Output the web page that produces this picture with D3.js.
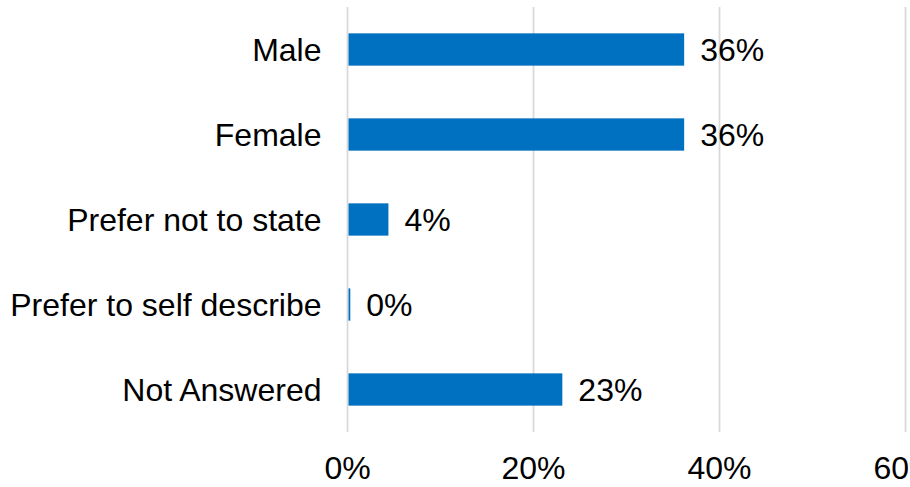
<!DOCTYPE html>
<html>
<head>
<meta charset="utf-8">
<script src="https://cdn.jsdelivr.net/npm/d3@7"></script>
<style>
    body { margin: 0; background: #fff; }
    svg text { font-family: "Liberation Sans", Arial, sans-serif; fill: #000; }
</style>
</head>
<body>
<div id="grafico"></div>
<script>

const categorias = ["Male", "Female", "Prefer not to state", "Prefer to self describe", "Not Answered"];
const valores = [36.2, 36.2, 4.4, 0.3, 23.1];
const rotulos = ["36%", "36%", "4%", "0%", "23%"];
const ticks = [0, 20, 40, 60];

const largura = 910, altura = 487;
const margem = {top: 7, right: 5, bottom: 55, left: 347.5};

const svg = d3.select("#grafico").append("svg")
    .attr("width", largura)
    .attr("height", altura);

// escala x: 20% = 186px
const x = d3.scaleLinear()
    .domain([0, 60])
    .range([margem.left, margem.left + 558]);

const y = d3.scaleBand()
    .domain(categorias)
    .range([margem.top, altura - margem.bottom])
    .paddingInner(0.62)
    .paddingOuter(0.31);

// linhas de grade
svg.append("g").selectAll("line")
    .data(ticks)
    .enter().append("line")
        .attr("x1", d => x(d))
        .attr("x2", d => x(d))
        .attr("y1", margem.top)
        .attr("y2", altura - margem.bottom)
        .attr("stroke", "#d9d9d9")
        .attr("stroke-width", 1.8);

// barras
svg.append("g").selectAll("rect")
    .data(valores)
    .enter().append("rect")
        .attr("x", x(0) + 1)
        .attr("y", (d, i) => y(categorias[i]))
        .attr("width", d => Math.max(0, x(d) - x(0) - 1))
        .attr("height", y.bandwidth())
        .attr("fill", "#0070c0");

// rotulos dos valores
svg.append("g").selectAll("text")
    .data(valores)
    .enter().append("text")
        .attr("x", d => x(d) + 16)
        .attr("y", (d, i) => y(categorias[i]) + y.bandwidth() / 2)
        .attr("dy", "0.36em")
        .style("font-size", "32px")
        .text((d, i) => rotulos[i]);

// eixo y (categorias)
svg.append("g").selectAll("text")
    .data(categorias)
    .enter().append("text")
        .attr("x", margem.left - 26)
        .attr("y", d => y(d) + y.bandwidth() / 2)
        .attr("dy", "0.36em")
        .attr("text-anchor", "end")
        .style("font-size", "32px")
        .text(d => d);

// eixo x (ticks)
svg.append("g").selectAll("text")
    .data(ticks)
    .enter().append("text")
        .attr("x", d => x(d))
        .attr("y", 479)
        .attr("text-anchor", "middle")
        .style("font-size", "32px")
        .text(d => d + "%");

</script>
</body>
</html>
